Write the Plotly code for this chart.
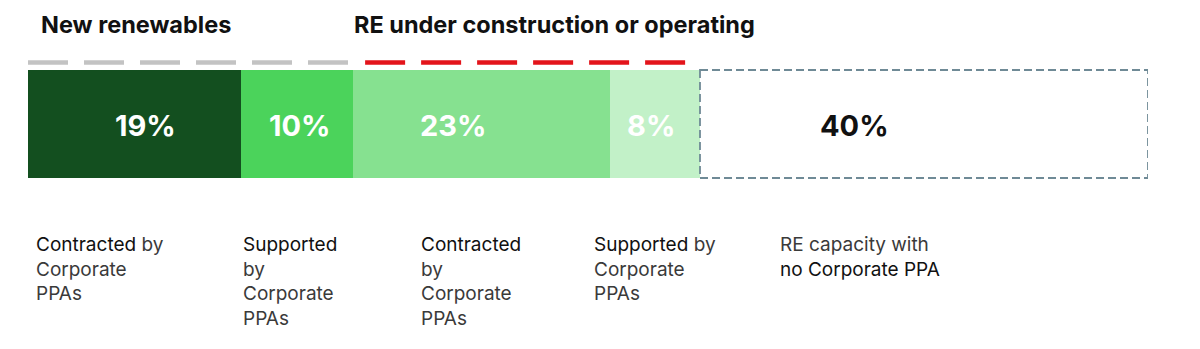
import plotly.graph_objects as go

# ---------------- data ----------------
segments = ["New: contracted", "New: supported", "RE: contracted", "RE: supported", "No corporate PPA"]
values = [19, 10, 23, 8, 40]
value_labels = ["19%", "10%", "23%", "8%", "40%"]
descriptions = [
    "<span style='color:#111'>Contracted</span> by<br>Corporate<br>PPAs",
    "<span style='color:#111'>Supported</span><br>by<br>Corporate<br>PPAs",
    "<span style='color:#111'>Contracted</span><br>by<br>Corporate<br>PPAs",
    "<span style='color:#111'>Supported</span> by<br>Corporate<br>PPAs",
    "RE capacity with<br><span style='color:#111'>no Corporate PPA</span>",
]
group_titles = ["New renewables", "RE under construction or operating"]
group_members = [[0, 1], [2, 3]]

# ---------------- style ----------------
colors = ["#134f1f", "#4bd35b", "#86e190", "#c2f1c8", "#ffffff"]
label_colors = ["#ffffff", "#ffffff", "#ffffff", "#ffffff", "#111111"]
label_frac = [0.55, 0.53, 0.39, 0.45, 0.345]
desc_offset = [0.5, 0.0, 5.9, -1.6, 7.0]
group_line_colors = ["#c3c3c3", "#e3141b"]
group_line_inset = [(0.0, 0.0), (1.1, 1.1)]
title_offset = [1.0, -0.1]

FONT = "Inter"
BAR_Y = 124
BAR_H = 108

starts = []
acc = 0
for v in values:
    starts.append(acc)
    acc += v

fig = go.Figure()
for i, (name, v) in enumerate(zip(segments, values)):
    fig.add_trace(go.Bar(
        name=name, x=[v], y=[BAR_Y], orientation="h", width=BAR_H,
        marker=dict(color=colors[i], line=dict(width=0)),
        hoverinfo="skip", showlegend=False,
    ))

annotations = []
shapes = []
for i, v in enumerate(values):
    annotations.append(dict(
        x=starts[i] + label_frac[i] * v, y=BAR_Y + 1, xref="x", yref="y",
        text=f"<b>{value_labels[i]}</b>", showarrow=False,
        font=dict(family=FONT, size=29, color=label_colors[i]),
        xanchor="center", yanchor="middle",
    ))
    annotations.append(dict(
        x=starts[i] + desc_offset[i], y=231, xref="x", yref="y",
        text=descriptions[i], showarrow=False, align="left",
        font=dict(family=FONT, size=19, color="#3a3a3a"),
        xanchor="left", yanchor="top",
    ))

# dashed box around the last segment
shapes.append(dict(
    type="rect", xref="x", yref="y",
    x0=starts[4], x1=starts[4] + values[4],
    y0=BAR_Y - BAR_H / 2, y1=BAR_Y + BAR_H / 2,
    line=dict(color="#6f8a96", width=1.8, dash="8px,4px"),
    fillcolor="rgba(0,0,0,0)", layer="above",
))

for g, members in enumerate(group_members):
    x0 = starts[members[0]] + group_line_inset[g][0]
    x1 = starts[members[-1]] + values[members[-1]] - group_line_inset[g][1]
    shapes.append(dict(
        type="line", xref="x", yref="y", x0=x0, x1=x1, y0=62.5, y1=62.5,
        line=dict(color=group_line_colors[g], width=4.5, dash="40px,16px"),
    ))
    annotations.append(dict(
        x=starts[members[0]] + title_offset[g], y=24, xref="x", yref="y",
        text=f"<b>{group_titles[g]}</b>", showarrow=False,
        font=dict(family=FONT, size=23.5, color="#111111"),
        xanchor="left", yanchor="middle",
    ))

fig.update_layout(
    width=1200, height=349,
    margin=dict(l=28, r=52, t=0, b=0),
    barmode="stack", bargap=0,
    plot_bgcolor="white", paper_bgcolor="white",
    xaxis=dict(range=[0, 100], visible=False, fixedrange=True),
    yaxis=dict(range=[349, 0], visible=False, fixedrange=True),
    shapes=shapes, annotations=annotations,
)

fig.write_html("out.html")
